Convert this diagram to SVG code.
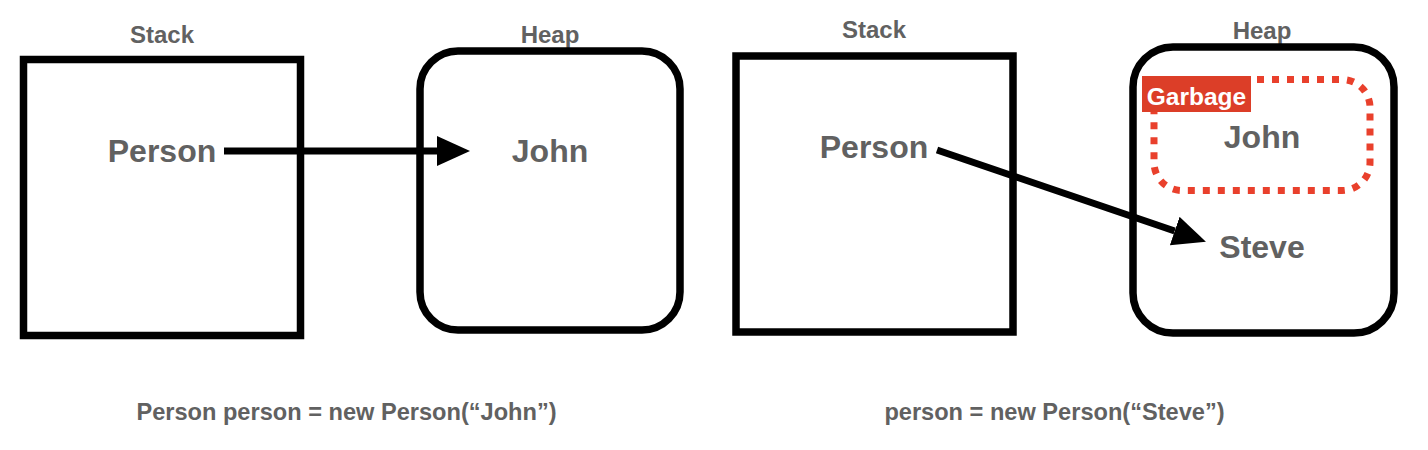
<svg xmlns="http://www.w3.org/2000/svg" width="1428" height="450" viewBox="0 0 1428 450">
  <style>
    .box { fill: #ffffff; stroke: #000000; stroke-width: 7.5; }
    .lbl { font-family: "Liberation Sans", Arial, sans-serif; font-weight: bold; fill: #616161; text-anchor: middle; }
    .title { font-size: 24px; }
    .big { font-size: 32px; }
    .code { font-size: 23.6px; }
    .conn { stroke: #000000; stroke-width: 7; fill: none; }
    .garbage { fill: none; stroke: #e9402c; stroke-width: 7; stroke-dasharray: 7 8; }
  </style>
  <defs>
    <marker id="arrow" markerUnits="userSpaceOnUse" markerWidth="36" markerHeight="32" refX="0" refY="15" orient="auto">
      <path d="M0,0 L33,15 L0,30 Z" fill="#000000"/>
    </marker>
  </defs>
  <rect width="1428" height="450" fill="#ffffff"/>

  <g id="left-stack">
    <text class="lbl title" x="162" y="43">Stack</text>
    <rect class="box" x="23.5" y="59.5" width="277" height="276"/>
    <text class="lbl big" x="162" y="162">Person</text>
  </g>
  <g id="left-heap">
    <text class="lbl title" x="550" y="43">Heap</text>
    <rect class="box" x="420" y="51" width="260" height="279" rx="38" ry="38"/>
    <text class="lbl big" x="550" y="162">John</text>
  </g>
  <g id="left-caption">
    <text class="lbl code" x="346.5" y="420">Person person = new Person(“John”)</text>
  </g>

  <g id="right-stack">
    <text class="lbl title" x="874" y="38">Stack</text>
    <rect class="box" x="736" y="56" width="277" height="276"/>
    <text class="lbl big" x="874" y="158">Person</text>
  </g>
  <g id="right-heap">
    <text class="lbl title" x="1262" y="39">Heap</text>
    <rect class="box" x="1133" y="47" width="261" height="286" rx="40" ry="40"/>
    <g id="garbage">
      <rect class="garbage" x="1154" y="79.5" width="216" height="111" rx="28" ry="28"/>
      <rect x="1142" y="76" width="109" height="36" fill="#dc3e28"/>
      <text x="1196.5" y="105" font-family="'Liberation Sans', Arial, sans-serif" font-weight="bold" font-size="24.5" fill="#ffffff" text-anchor="middle">Garbage</text>
    </g>
    <text class="lbl big" x="1262" y="148">John</text>
    <text class="lbl big" x="1262" y="258">Steve</text>
  </g>
  <g id="right-caption">
    <text class="lbl code" x="1054.5" y="420">person = new Person(“Steve”)</text>
  </g>

  <g id="connectors">
    <line class="conn" x1="224" y1="151" x2="437" y2="151" marker-end="url(#arrow)"/>
    <line class="conn" x1="937" y1="150" x2="1174.7" y2="231" marker-end="url(#arrow)"/>
  </g>
</svg>
